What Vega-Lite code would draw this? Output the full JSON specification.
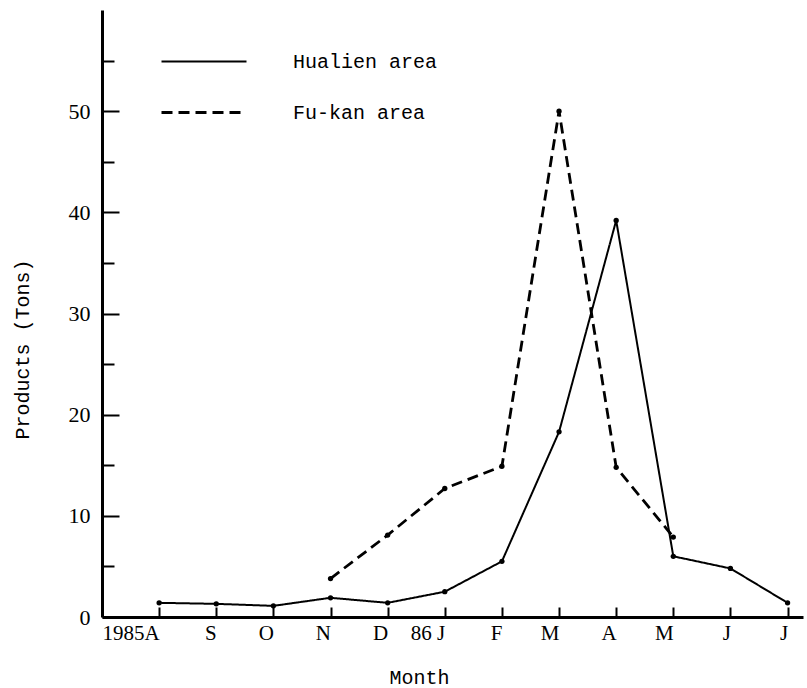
{
  "$schema": "https://vega.github.io/schema/vega-lite/v6.json",
  "width": 701,
  "height": 607,
  "autosize": {"type": "none"},
  "padding": {"left": 102, "top": 10, "right": 4, "bottom": 71},
  "background": "white",
  "config": {"view": {"stroke": null}, "font": "Liberation Serif"},
  "data": {
    "values": [
      {"series": "Hualien area", "m": 0, "v": 1.4},
      {"series": "Hualien area", "m": 1, "v": 1.3},
      {"series": "Hualien area", "m": 2, "v": 1.1},
      {"series": "Hualien area", "m": 3, "v": 1.9},
      {"series": "Hualien area", "m": 4, "v": 1.4},
      {"series": "Hualien area", "m": 5, "v": 2.5},
      {"series": "Hualien area", "m": 6, "v": 5.5},
      {"series": "Hualien area", "m": 7, "v": 18.3},
      {"series": "Hualien area", "m": 8, "v": 39.2},
      {"series": "Hualien area", "m": 9, "v": 6.0},
      {"series": "Hualien area", "m": 10, "v": 4.8},
      {"series": "Hualien area", "m": 11, "v": 1.4},
      {"series": "Fu-kan area", "m": 3, "v": 3.8},
      {"series": "Fu-kan area", "m": 4, "v": 8.1},
      {"series": "Fu-kan area", "m": 5, "v": 12.7},
      {"series": "Fu-kan area", "m": 6, "v": 14.9},
      {"series": "Fu-kan area", "m": 7, "v": 50.0},
      {"series": "Fu-kan area", "m": 8, "v": 14.8},
      {"series": "Fu-kan area", "m": 9, "v": 7.9}
    ]
  },
  "encoding": {
    "x": {
      "field": "m",
      "type": "quantitative",
      "scale": {"domain": [-1, 11.27], "nice": false, "zero": false},
      "axis": {
        "title": "Month",
        "titleFont": "Liberation Mono",
        "titleFontSize": 20,
        "titleFontWeight": "normal",
        "titleColor": "black",
        "titleX": 317,
        "titleY": 70,
        "titleBaseline": "bottom",
        "titleAnchor": "middle",
        "titleAlign": "center",
        "values": [0, 1, 2, 3, 4, 5, 6, 7, 8, 9, 10, 11],
        "labelExpr": "['1985A','S','O','N','D','86 J','F','M','A','M','J','J'][datum.value]",
        "labelAlign": "right",
        "labelDx": 7,
        "labelBaseline": "top",
        "labelPadding": 15,
        "labelFontSize": 21,
        "labelColor": "black",
        "tickSize": -10,
        "tickWidth": 2,
        "tickColor": "black",
        "domainColor": "black",
        "domainWidth": 3,
        "grid": false
      }
    },
    "y": {
      "field": "v",
      "type": "quantitative",
      "scale": {"domain": [0, 60], "nice": false},
      "axis": {
        "title": "Products (Tons)",
        "titleFont": "Liberation Mono",
        "titleFontSize": 20,
        "titleFontWeight": "normal",
        "titleColor": "black",
        "titleX": -80,
        "titleY": 339,
        "titleBaseline": "middle",
        "titleAnchor": "middle",
        "titleAlign": "center",
        "values": [0, 5, 10, 15, 20, 25, 30, 35, 40, 45, 50, 55],
        "labelExpr": "datum.value % 10 === 0 ? datum.label : ''",
        "labelFontSize": 22,
        "labelColor": "black",
        "labelPadding": 29,
        "tickSize": {"condition": {"test": "datum.value % 10 === 0", "value": -17}, "value": -12},
        "tickWidth": 2,
        "tickColor": "black",
        "domainColor": "black",
        "domainWidth": 3,
        "grid": false
      }
    }
  },
  "layer": [
    {
      "mark": {"type": "line", "color": "black"},
      "encoding": {
        "strokeWidth": {
          "field": "series",
          "type": "nominal",
          "scale": {"domain": ["Hualien area", "Fu-kan area"], "range": [2, 2.8]},
          "legend": null
        },
        "strokeDash": {
          "field": "series",
          "type": "nominal",
          "scale": {"domain": ["Hualien area", "Fu-kan area"], "range": [[1, 0], [11, 6]]},
          "legend": {
            "orient": "none",
            "legendX": 58,
            "legendY": 26,
            "title": null,
            "padding": 0,
            "symbolType": "stroke",
            "symbolSize": 7225,
            "symbolStrokeWidth": 2.2,
            "symbolStrokeColor": "black",
            "clipHeight": 51,
            "rowPadding": 0,
            "labelFont": "Liberation Mono",
            "labelFontSize": 20,
            "labelColor": "black",
            "labelOffset": 45
          }
        }
      }
    },
    {
      "mark": {"type": "point", "filled": true, "color": "black", "size": 28, "opacity": 1},
      "encoding": {"detail": {"field": "series", "type": "nominal"}}
    }
  ]
}
